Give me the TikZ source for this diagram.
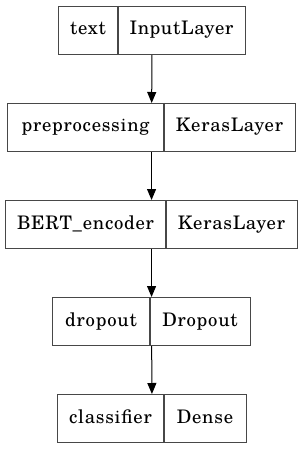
\documentclass[tikz,border=0pt]{standalone}
\usepackage{fontspec}
\setmainfont{TeX Gyre Schola}[LetterSpace=4]
\usetikzlibrary{arrows.meta}
\tikzset{
  layerbox/.style={rectangle, draw=black!72, line width=1.1pt, minimum height=48pt, inner sep=0pt, anchor=north west},
  lbl/.style={font=\fontsize{18.67}{22}\selectfont, inner sep=0pt, anchor=base},
  divider/.style={draw=black!72, line width=1.1pt},
  arr/.style={draw=black, line width=1pt, -{Triangle[length=11pt,width=9pt]}}
}
\begin{document}
\begin{tikzpicture}[x=1pt,y=-1pt]
\useasboundingbox (0,0) rectangle (303,449);
% layer 1
\node[layerbox, minimum width=187pt] (L1) at (58,6) {};
\draw[divider] (L1.north -| 118,0) -- (L1.south -| 118,0);
\node[lbl] (L1a) at (88,35) {text};
\node[lbl] (L1b) at (181.5,35) {InputLayer};
% layer 2
\node[layerbox, minimum width=288pt] (L2) at (7,103) {};
\draw[divider] (L2.north -| 164,0) -- (L2.south -| 164,0);
\node[lbl] (L2a) at (85.5,132) {preprocessing};
\node[lbl] (L2b) at (229.5,132) {KerasLayer};
% layer 3
\node[layerbox, minimum width=292pt] (L3) at (5,200) {};
\draw[divider] (L3.north -| 166,0) -- (L3.south -| 166,0);
\node[lbl] (L3a) at (85.5,229) {BERT\_encoder};
\node[lbl] (L3b) at (231.5,229) {KerasLayer};
% layer 4
\node[layerbox, minimum width=198pt] (L4) at (52,297) {};
\draw[divider] (L4.north -| 150,0) -- (L4.south -| 150,0);
\node[lbl] (L4a) at (101,326) {dropout};
\node[lbl] (L4b) at (200,326) {Dropout};
% layer 5
\node[layerbox, minimum width=189pt] (L5) at (57,394) {};
\draw[divider] (L5.north -| 164,0) -- (L5.south -| 164,0);
\node[lbl] (L5a) at (110.5,423) {classifier};
\node[lbl] (L5b) at (205,423) {Dense};
% arrows
\draw[arr] (L1) -- (L2);
\draw[arr] (L2) -- (L3);
\draw[arr] (L3) -- (L4);
\draw[arr] (L4) -- (L5);
\end{tikzpicture}
\end{document}
